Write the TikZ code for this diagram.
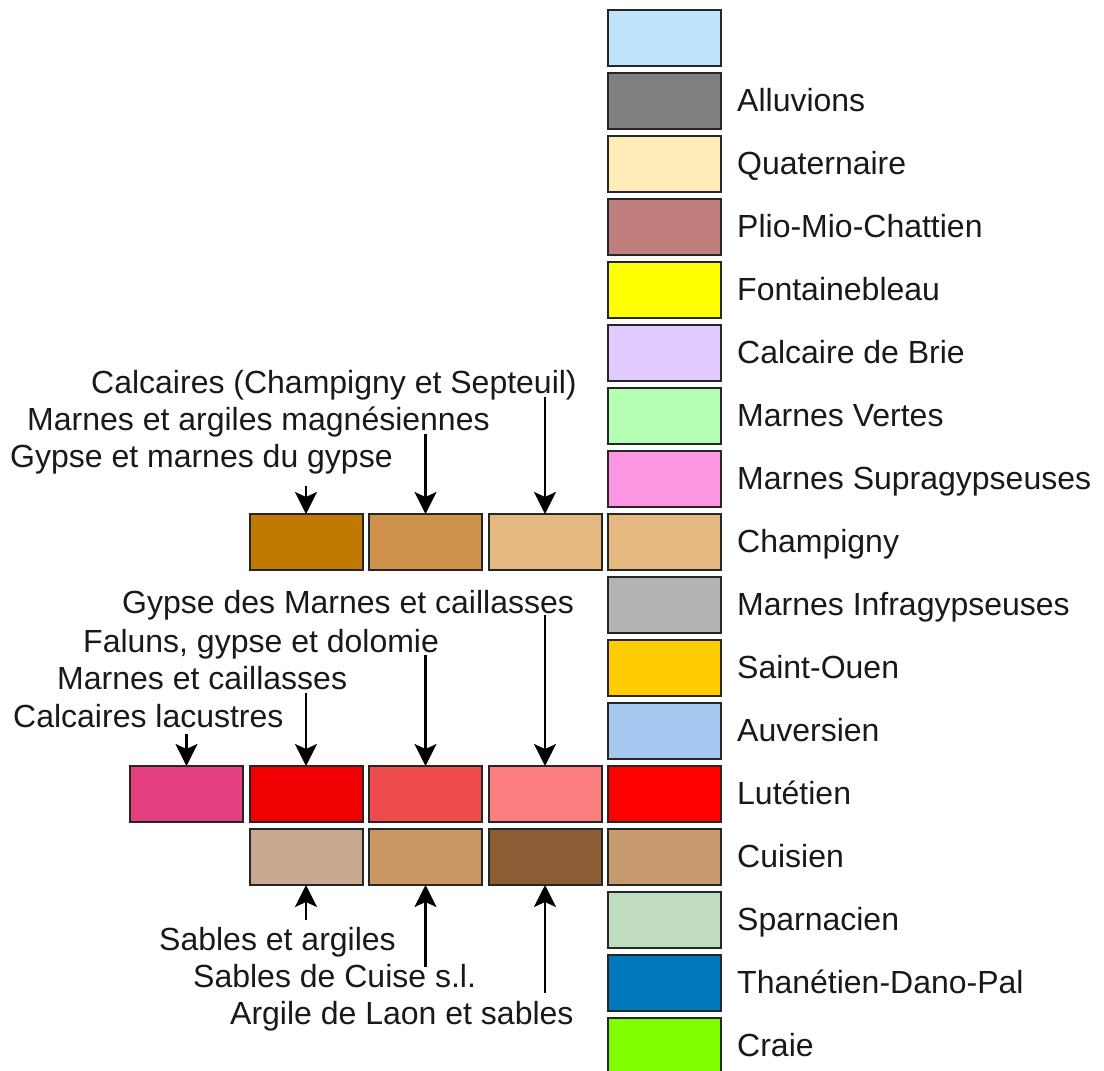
\documentclass[tikz,border=0pt]{standalone}
\usepackage{fontspec}
\setmainfont{Liberation Sans}
\usetikzlibrary{arrows.meta}

% legend colours, top to bottom
\definecolor{lgSky}{RGB}{192,228,252}
\definecolor{lgAlluv}{RGB}{128,128,128}
\definecolor{lgQuat}{RGB}{255,236,184}
\definecolor{lgPlio}{RGB}{192,126,126}
\definecolor{lgFont}{RGB}{255,255,0}
\definecolor{lgBrie}{RGB}{224,204,255}
\definecolor{lgVert}{RGB}{180,255,180}
\definecolor{lgSupra}{RGB}{250,150,226}
\definecolor{lgChamp}{RGB}{229,184,128}
\definecolor{lgInfra}{RGB}{180,180,180}
\definecolor{lgOuen}{RGB}{255,204,0}
\definecolor{lgAuv}{RGB}{166,200,240}
\definecolor{lgLut}{RGB}{255,0,0}
\definecolor{lgCuis}{RGB}{200,155,110}
\definecolor{lgSparn}{RGB}{192,220,192}
\definecolor{lgThan}{RGB}{0,120,190}
\definecolor{lgCraie}{RGB}{128,255,0}
% sub-facies colours
\definecolor{chGyp}{RGB}{192,122,4}
\definecolor{chMag}{RGB}{206,146,76}
\definecolor{luLac}{RGB}{228,64,128}
\definecolor{luCai}{RGB}{240,0,0}
\definecolor{luFal}{RGB}{238,76,76}
\definecolor{luGyp}{RGB}{252,126,126}
\definecolor{cuSab}{RGB}{200,168,144}
\definecolor{cuCuise}{RGB}{202,150,100}
\definecolor{cuLaon}{RGB}{140,92,52}

\begin{document}
\begin{tikzpicture}[x=1pt,y=-1pt,
  layer/.style={rectangle, draw=black!85, line width=2pt, minimum width=113pt,
    minimum height=56pt, inner sep=0pt, outer sep=0pt},
  lbl/.style={anchor=base west, inner sep=0pt, text=black!90,
    font=\fontsize{32}{38}\selectfont},
  arr/.style={line width=2.5pt, -{Stealth[length=22pt,width=22pt,inset=5pt]}}]

\useasboundingbox (0,0) rectangle (1104,1071);
\clip (0,0) rectangle (1104,1071);

% legend column
\foreach \k/\col in {0/lgSky,1/lgAlluv,2/lgQuat,3/lgPlio,4/lgFont,5/lgBrie,
    6/lgVert,7/lgSupra,8/lgChamp,9/lgInfra,10/lgOuen,11/lgAuv,12/lgLut,
    13/lgCuis,14/lgSparn,15/lgThan,16/lgCraie}
  \node[layer, fill=\col] (leg\k) at (664.5,{38+63*\k}) {};

\foreach \k/\t in {1/Alluvions,2/Quaternaire,3/Plio-Mio-Chattien,
    4/Fontainebleau,5/Calcaire de Brie,6/Marnes Vertes,
    7/Marnes Supragypseuses,8/Champigny,9/Marnes Infragypseuses,
    10/Saint-Ouen,11/Auversien,12/Lutétien,13/Cuisien,14/Sparnacien,
    15/Thanétien-Dano-Pal,16/Craie}
  \node[lbl] (legtxt\k) at (737,{48.5+63*\k}) {\t};

% Champigny facies
\node[layer, fill=chGyp]   (ch1) at (306,542) {};
\node[layer, fill=chMag]   (ch2) at (425.5,542) {};
\node[layer, fill=lgChamp] (ch3) at (545,542) {};

\node[lbl] (chT3) at (91,393)  {Calcaires (Champigny et Septeuil)};
\node[lbl] (chT2) at (27,430)  {Marnes et argiles magnésiennes};
\node[lbl] (chT1) at (10,467)  {Gypse et marnes du gypse};

\coordinate (chA1) at (306,486);
\coordinate (chA2) at (425.5,434);
\coordinate (chA3) at (545,397);
\draw[arr] (chA1) -- (ch1.north);
\draw[arr] (chA2) -- (ch2.north);
\draw[arr] (chA3) -- (ch3.north);

% Lutetian facies
\node[layer, fill=luLac] (lu0) at (186.5,794) {};
\node[layer, fill=luCai] (lu1) at (306,794) {};
\node[layer, fill=luFal] (lu2) at (425.5,794) {};
\node[layer, fill=luGyp] (lu3) at (545,794) {};

\node[lbl] (luT3) at (122,613) {Gypse des Marnes et caillasses};
\node[lbl] (luT2) at (83,652)  {Faluns, gypse et dolomie};
\node[lbl] (luT1) at (57,689)  {Marnes et caillasses};
\node[lbl] (luT0) at (13,727)  {Calcaires lacustres};

\coordinate (luA0) at (186.5,734);
\coordinate (luA1) at (306,693);
\coordinate (luA2) at (425.5,655);
\coordinate (luA3) at (545,615);
\draw[arr] (luA0) -- (lu0.north);
\draw[arr] (luA1) -- (lu1.north);
\draw[arr] (luA2) -- (lu2.north);
\draw[arr] (luA3) -- (lu3.north);

% Cuisian facies
\node[layer, fill=cuSab]   (cu1) at (306,857) {};
\node[layer, fill=cuCuise] (cu2) at (425.5,857) {};
\node[layer, fill=cuLaon]  (cu3) at (545,857) {};

\node[lbl] (cuT1) at (159,950)  {Sables et argiles};
\node[lbl] (cuT2) at (193,987)  {Sables de Cuise s.l.};
\node[lbl] (cuT3) at (230,1024) {Argile de Laon et sables};

\coordinate (cuA1) at (306,920);
\coordinate (cuA2) at (425.5,967);
\coordinate (cuA3) at (545,993);
\draw[arr] (cuA1) -- (cu1.south);
\draw[arr] (cuA2) -- (cu2.south);
\draw[arr] (cuA3) -- (cu3.south);
\end{tikzpicture}
\end{document}
